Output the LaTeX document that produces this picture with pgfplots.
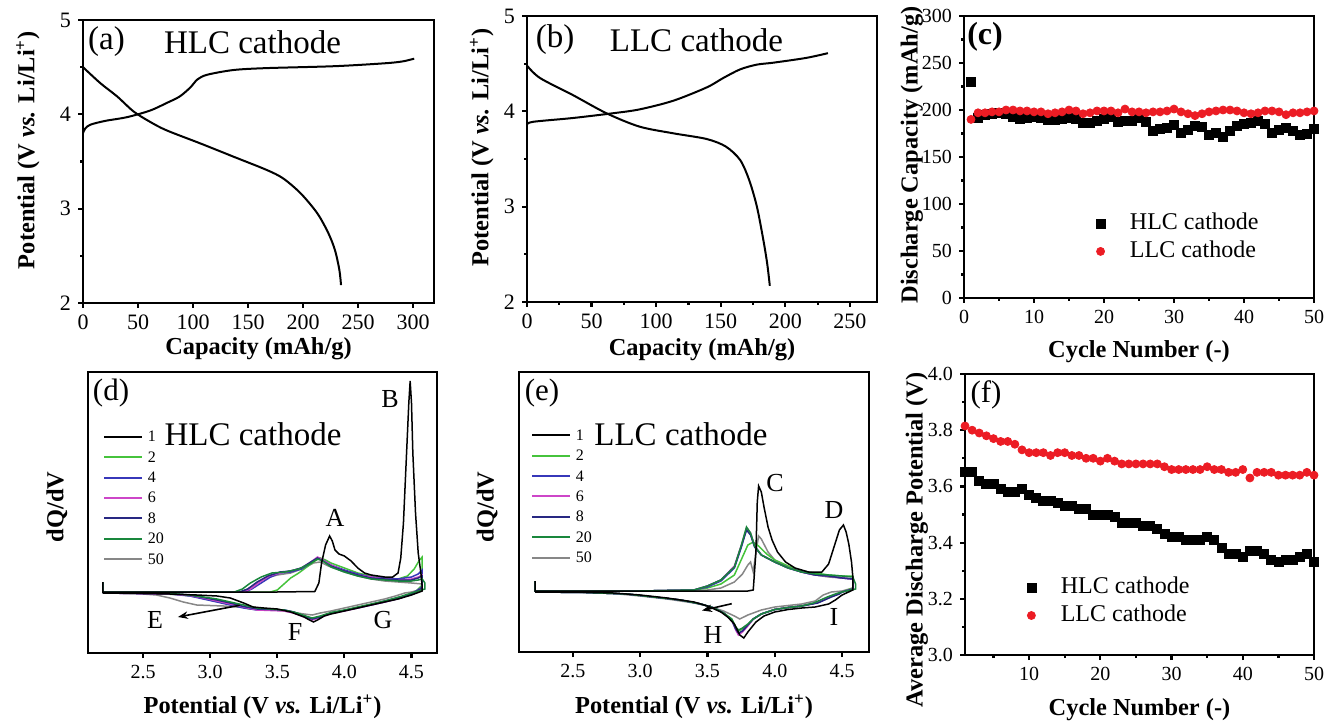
\documentclass[border=0pt]{standalone}
\usepackage{fontspec}
\setmainfont{Liberation Serif}
\usepackage{pgfplots}
\pgfplotsset{compat=1.18}
\usetikzlibrary{arrows.meta}
\definecolor{cyA}{RGB}{0,0,0}
\definecolor{cyB}{RGB}{70,195,60}
\definecolor{cyD}{RGB}{55,55,185}
\definecolor{cyF}{RGB}{205,70,200}
\definecolor{cyH}{RGB}{40,40,130}
\definecolor{cyT}{RGB}{25,135,60}
\definecolor{cyZ}{RGB}{135,135,135}
\definecolor{myred}{RGB}{236,28,36}
\pgfplotsset{
  base/.style={scale only axis, axis line style={line width=1.4pt},
    tick align=outside, tick pos=left, major tick length=2.5pt, minor tick length=1.5pt,
    every tick/.style={black, line width=1.1pt},
    ticklabel style={font=\fontsize{10}{11}\selectfont},
    /pgf/number format/assume math mode=true,
    label style={font=\bfseries\fontsize{12.2}{14}\selectfont},
    clip=false},
  dq/.style={base, ytick=\empty, xtick={2.5,3,3.5,4,4.5},
    xticklabel style={/pgf/number format/fixed, /pgf/number format/fixed zerofill, /pgf/number format/precision=1},
    ymin=0,
    legend style={draw=none, fill=none, font=\fontsize{8}{9}\selectfont, row sep=3.2pt,
      nodes={inner sep=0pt, text height=6pt, text depth=1pt}, cells={anchor=west}},
    legend image code/.code={\draw[#1, line width=1pt] (0pt,0pt) -- (19pt,0pt); \path (21.5pt,0pt);}},
  mk/.style={legend style={draw=none, fill=none, font=\fontsize{12}{14}\selectfont, row sep=3pt,
      nodes={inner sep=0pt, text height=8.5pt, text depth=2.5pt}, cells={anchor=west}},
    legend image code/.code={\draw[#1] plot coordinates {(0pt,0pt)}; \path (14.5pt,0pt);}},
  cv/.style={line width=0.75pt}
}
\begin{document}
\begin{tikzpicture}
\useasboundingbox (0,0) rectangle (662.5pt,361pt);
% ---------------- (a)
\begin{axis}[base, at={(41.5pt,209.5pt)}, anchor=south west, width=175.5pt, height=141.5pt,
  xmin=0, xmax=319, ymin=2, ymax=5, xtick={0,50,...,300}, ytick={2,3,4,5},
  minor ytick={2.5,3.5,4.5}, ticklabel style={font=\fontsize{11}{12}\selectfont},
  xlabel={Capacity (mAh/g)}, ylabel={Potential (V \textit{vs.} Li/Li\textsuperscript{+})},
  xlabel style={at={(axis description cs:0.5,-0.16)}, anchor=center},
  ylabel style={at={(axis description cs:-0.157,0.54)}, anchor=center}]
\addplot[black, line width=1pt, smooth] coordinates {(0,3.80) (2,3.85) (6.7,3.89) (20,3.93) (40,3.97) (61,4.04) (76,4.12) (88,4.19) (98,4.29) (104,4.37) (113,4.42) (137,4.47) (167,4.49) (228,4.51) (273,4.54) (290,4.56) (301,4.59)};
\addplot[black, line width=1pt, smooth] coordinates {(0,4.5) (15.8,4.33) (31,4.19) (46,4.03) (61,3.92) (76,3.83) (107,3.69) (137,3.55) (167,3.41) (182,3.32) (198,3.16) (213,2.95) (223,2.74) (229,2.56) (233,2.35) (234.5,2.19)};
\end{axis}
% ---------------- (b)
\begin{axis}[base, at={(263.5pt,210pt)}, anchor=south west, width=175pt, height=143pt,
  xmin=0, xmax=271, ymin=2, ymax=5, xtick={0,50,...,250}, minor xtick={25,75,...,225}, ytick={2,3,4,5},
  minor ytick={2.5,3.5,4.5}, ticklabel style={font=\fontsize{11}{12}\selectfont},
  xlabel={Capacity (mAh/g)}, ylabel={Potential (V \textit{vs.} Li/Li\textsuperscript{+})},
  xlabel style={at={(axis description cs:0.5,-0.168)}, anchor=center},
  ylabel style={at={(axis description cs:-0.129,0.54)}, anchor=center}]
\addplot[black, line width=1pt, smooth] coordinates {(0,3.86) (4.6,3.89) (35.6,3.93) (66.6,3.98) (87,4.02) (113,4.11) (139,4.25) (152,4.35) (165,4.44) (178,4.49) (190.6,4.51) (216,4.56) (233,4.61)};
\addplot[black, line width=1pt, smooth] coordinates {(0,4.48) (10,4.35) (35.6,4.17) (61.5,3.98) (87,3.84) (113,3.77) (139,3.71) (154,3.63) (165,3.49) (172,3.28) (178,3.0) (183,2.65) (186,2.40) (188,2.17)};
\end{axis}
% ---------------- (c)
\begin{axis}[base, mk, at={(482pt,212pt)}, anchor=south west, width=175pt, height=141pt,
  xmin=0, xmax=50, ymin=0, ymax=300, xtick={0,10,...,50}, minor xtick={5,15,...,45},
  ytick={0,50,...,300}, minor ytick={25,75,...,275},
  xlabel={Cycle Number (-)}, ylabel={Discharge Capacity (mAh/g)},
  xlabel style={at={(axis description cs:0.5,-0.191)}, anchor=center},
  ylabel style={at={(axis description cs:-0.149,0.507)}, anchor=center},
  legend style={at={(axis description cs:0.359,0.319)}, anchor=north west}]
\addplot[only marks, mark=square*, mark size=2.25pt, black] coordinates {(1,230) (2,192) (3,195) (4,196) (5,197) (6,196) (7,193) (8,190) (9,192) (10,193) (11,192) (12,189) (13,189) (14,191) (15,192) (16,191) (17,186) (18,186) (19,188) (20,190) (21,193) (22,187) (23,188) (24,188) (25,192) (26,187) (27,178) (28,180) (29,181) (30,184) (31,176) (32,179) (33,183) (34,182) (35,174) (36,176) (37,171) (38,178) (39,183) (40,185) (41,186) (42,188) (43,185) (44,176) (45,179) (46,181) (47,178) (48,173) (49,175) (50,180)};
\addlegendentry{HLC cathode}
\addplot[only marks, mark=*, mark size=2pt, myred] coordinates {(1,190) (2,197) (3,197) (4,198) (5,198) (6,200) (7,200) (8,199) (9,199) (10,198) (11,198) (12,196) (13,197) (14,198) (15,200) (16,199) (17,196) (18,197) (19,199) (20,199) (21,199) (22,197) (23,201) (24,198) (25,198) (26,197) (27,198) (28,198) (29,199) (30,201) (31,198) (32,196) (33,194) (34,196) (35,198) (36,199) (37,200) (38,200) (39,199) (40,197) (41,196) (42,197) (43,199) (44,199) (45,198) (46,195) (47,197) (48,197) (49,198) (50,199)};
\addlegendentry{LLC cathode}
\end{axis}
% ---------------- (d)
\begin{axis}[base, dq, at={(44pt,34.5pt)}, anchor=south west, width=174.5pt, height=140.5pt,
  xmin=2.09, xmax=4.69, ymax=281,
  xlabel={Potential (V \textit{vs.} Li/Li\textsuperscript{+})}, ylabel={dQ/dV},
  xlabel style={at={(axis description cs:0.5,-0.192)}, anchor=center},
  ylabel style={at={(axis description cs:-0.089,0.52)}, anchor=center},
  legend style={at={(axis description cs:0.026,0.81)}, anchor=north west}]
\addlegendimage{cyA}\addlegendentry{1}
\addlegendimage{cyB}\addlegendentry{2}
\addlegendimage{cyD}\addlegendentry{4}
\addlegendimage{cyF}\addlegendentry{6}
\addlegendimage{cyH}\addlegendentry{8}
\addlegendimage{cyT}\addlegendentry{20}
\addlegendimage{cyZ}\addlegendentry{50}
% cycle 50
\addplot[cyZ, cv, forget plot] coordinates {(2.2,71) (2.2,61) (3.0,61) (3.22,61) (3.28,64) (3.35,70) (3.42,75) (3.5,78) (3.6,80) (3.7,85) (3.77,90) (3.82,91) (3.88,87) (4.0,81) (4.1,77) (4.2,74) (4.3,72) (4.4,71) (4.5,70) (4.58,69) (4.58,64)
 (4.5,61) (4.45,60) (4.38,57) (4.3,54) (4.2,51) (4.1,48) (4.0,45) (3.9,42) (3.82,40) (3.76,38) (3.7,39) (3.6,41) (3.5,43) (3.4,44) (3.3,45) (3.2,46) (3.1,47) (3.0,47.5) (2.9,48) (2.8,51) (2.7,55) (2.6,58) (2.45,59.5) (2.2,60)};
% cycle 2
\addplot[cyB, cv, forget plot] coordinates {(2.2,71) (2.2,61) (3.0,61) (3.45,61) (3.5,63) (3.55,69) (3.6,75) (3.66,80) (3.72,86) (3.78,92) (3.82,95) (3.86,93) (3.9,90) (4.0,85) (4.1,80) (4.2,77) (4.3,75) (4.4,74) (4.47,77) (4.52,84) (4.56,93) (4.58,96) (4.58,68)
 (4.52,60) (4.45,57) (4.35,53) (4.25,50) (4.15,47) (4.05,44) (3.95,41) (3.85,38) (3.8,35) (3.76,34) (3.72,36) (3.65,40) (3.58,42) (3.5,43) (3.4,43) (3.3,44) (3.2,47) (3.1,50) (3.0,53) (2.9,56) (2.8,58) (2.6,59.5) (2.2,60)};
% cycle 4
\addplot[cyD, cv, forget plot] coordinates {(2.2,71) (2.2,61) (3.0,61) (3.26,61) (3.31,64) (3.38,70) (3.45,76) (3.52,80) (3.6,81) (3.68,84) (3.75,90) (3.8,95) (3.84,93) (3.9,88) (4.0,83) (4.1,79) (4.2,76) (4.3,75) (4.4,74) (4.5,76) (4.55,79) (4.58,83) (4.58,66)
 (4.5,59) (4.42,55) (4.3,51) (4.2,48) (4.1,45) (4.0,42.5) (3.9,40) (3.82,36) (3.76,34) (3.7,37) (3.62,41) (3.55,43) (3.45,43) (3.35,43) (3.25,45) (3.15,48) (3.05,51) (2.95,54) (2.85,57) (2.7,59) (2.2,60)};
% cycle 6
\addplot[cyF, cv, forget plot] coordinates {(2.2,71) (2.2,61) (3.0,61) (3.24,61) (3.3,64) (3.37,71) (3.44,77) (3.52,80) (3.6,82) (3.68,85) (3.75,91) (3.8,96) (3.84,93) (3.9,88) (4.0,82) (4.1,78) (4.2,76) (4.3,74) (4.4,73) (4.5,74) (4.55,76) (4.58,78) (4.58,65)
 (4.5,59) (4.42,55) (4.3,51) (4.2,48) (4.1,45) (4.0,42) (3.9,39.5) (3.82,35.5) (3.76,33) (3.7,36) (3.62,40) (3.55,42) (3.45,42.5) (3.35,43) (3.25,46) (3.15,49) (3.05,52) (2.95,55) (2.85,57.5) (2.7,59) (2.2,60)};
% cycle 8
\addplot[cyH, cv, forget plot] coordinates {(2.2,71) (2.2,61) (3.0,61) (3.22,61) (3.28,64) (3.35,71) (3.43,77) (3.52,81) (3.6,82) (3.68,85) (3.75,91) (3.8,95) (3.84,92) (3.9,87) (4.0,82) (4.1,78) (4.2,75) (4.3,74) (4.4,73) (4.5,73) (4.55,75) (4.58,77) (4.58,65)
 (4.5,59) (4.42,56) (4.3,52) (4.2,48.5) (4.1,45.5) (4.0,42.5) (3.9,40) (3.82,36) (3.76,34) (3.7,37) (3.62,41) (3.55,43) (3.45,43.5) (3.35,44) (3.25,46.5) (3.15,50) (3.05,53) (2.95,55.5) (2.85,58) (2.7,59.5) (2.2,60)};
% cycle 20
\addplot[cyT, cv, forget plot] coordinates {(2.2,71) (2.2,61) (3.0,61) (3.18,61) (3.24,64) (3.3,70) (3.38,76) (3.46,80) (3.56,81) (3.66,84) (3.74,89) (3.8,94) (3.84,92) (3.9,86) (4.0,81) (4.1,77) (4.2,74) (4.3,73) (4.4,72) (4.5,72) (4.55,73) (4.58,74) (4.6,70) (4.6,64)
 (4.5,60) (4.42,56.5) (4.3,52) (4.2,49) (4.1,46) (4.0,43) (3.9,40.5) (3.82,37) (3.76,35) (3.7,37.5) (3.62,41) (3.55,43) (3.45,44) (3.35,45) (3.25,48) (3.15,51) (3.05,54) (2.95,56) (2.85,58) (2.7,59.5) (2.5,60) (2.2,60)};
% cycle 1
\addplot[cyA, cv, forget plot] coordinates {(2.2,71) (2.2,61) (3.0,61) (3.5,61) (3.78,61.5) (3.81,70) (3.83,90) (3.86,108) (3.89,117) (3.91,112) (3.93,103) (3.96,99) (4.0,97) (4.05,92) (4.1,85) (4.15,80) (4.2,78) (4.3,76) (4.36,76) (4.4,80) (4.42,95) (4.44,130) (4.46,190) (4.48,250) (4.49,272) (4.5,250) (4.51,200) (4.53,140) (4.55,100) (4.57,80) (4.58,66)
 (4.58,62) (4.5,58) (4.4,54) (4.3,51) (4.2,48) (4.1,45) (4.0,42) (3.9,39) (3.85,37) (3.8,33) (3.77,31) (3.74,33) (3.7,36) (3.6,41) (3.5,44) (3.4,45) (3.32,46) (3.25,50) (3.15,55) (3.05,57) (2.9,58) (2.7,59) (2.5,59.5) (2.2,60)};
\draw[-{Stealth[length=5pt]}, line width=0.8pt] (axis cs:3.22,47.7) -- (axis cs:2.76,36);
\end{axis}
% ---------------- (e)
\begin{axis}[base, dq, at={(259.5pt,35pt)}, anchor=south west, width=175pt, height=140pt,
  xmin=2.1, xmax=4.7, ymax=280,
  xlabel={Potential (V \textit{vs.} Li/Li\textsuperscript{+})}, ylabel={dQ/dV},
  xlabel style={at={(axis description cs:0.5,-0.196)}, anchor=center},
  ylabel style={at={(axis description cs:-0.091,0.518)}, anchor=center},
  legend style={at={(axis description cs:0.017,0.815)}, anchor=north west}]
\addlegendimage{cyA}\addlegendentry{1}
\addlegendimage{cyB}\addlegendentry{2}
\addlegendimage{cyD}\addlegendentry{4}
\addlegendimage{cyF}\addlegendentry{6}
\addlegendimage{cyH}\addlegendentry{8}
\addlegendimage{cyT}\addlegendentry{20}
\addlegendimage{cyZ}\addlegendentry{50}
% cycle 50
\addplot[cyZ, cv, forget plot] coordinates {(2.22,71) (2.22,61) (3.0,61) (3.5,62) (3.6,64) (3.7,70) (3.76,78) (3.8,87) (3.82,90) (3.84,80) (3.86,100) (3.88,116) (3.9,113) (3.95,100) (4.0,92) (4.1,85) (4.2,80) (4.3,77) (4.4,75) (4.5,74) (4.58,73) (4.58,64)
 (4.5,61) (4.42,60) (4.36,57) (4.3,51) (4.2,48) (4.0,45) (3.9,42) (3.8,37) (3.74,33) (3.7,36) (3.62,41) (3.5,46) (3.4,49) (3.2,53) (3.0,56) (2.8,58.5) (2.5,60) (2.22,60)};
% cycle 2
\addplot[cyB, cv, forget plot] coordinates {(2.22,71) (2.22,61) (3.0,61) (3.4,62) (3.5,64) (3.6,68) (3.7,77) (3.76,95) (3.8,107) (3.84,110) (3.88,106) (3.94,98) (4.0,92) (4.1,86) (4.2,81) (4.3,79) (4.4,77) (4.5,76) (4.58,76) (4.58,64)
 (4.5,60) (4.44,57) (4.38,53) (4.3,49) (4.2,46) (4.1,44.5) (4.0,42.5) (3.9,38) (3.84,33) (3.8,27) (3.76,23) (3.73,21) (3.71,25) (3.68,33) (3.62,39) (3.55,44) (3.45,48) (3.3,52) (3.1,55) (2.9,58) (2.6,59.5) (2.22,60)};
% cycle 4
\addplot[cyD, cv, forget plot] coordinates {(2.22,71) (2.22,61) (3.0,61) (3.4,62) (3.5,65) (3.6,71) (3.7,84) (3.75,104) (3.79,123) (3.82,118) (3.85,106) (3.9,97) (4.0,90) (4.1,84) (4.2,80) (4.3,77) (4.4,76) (4.5,74) (4.58,73) (4.58,63)
 (4.5,60) (4.46,58) (4.4,55) (4.35,52) (4.3,49) (4.2,46) (4.1,44.5) (4.0,42.5) (3.9,38) (3.84,33) (3.8,27) (3.76,21) (3.73,18) (3.71,23) (3.68,32) (3.62,39) (3.55,44) (3.45,48) (3.3,52) (3.1,55) (2.9,58) (2.6,59.5) (2.22,60)};
% cycle 6
\addplot[cyF, cv, forget plot] coordinates {(2.22,71) (2.22,61) (3.0,61) (3.4,62) (3.5,66) (3.6,72) (3.7,86) (3.75,106) (3.79,124) (3.82,119) (3.85,106) (3.9,97) (4.0,90) (4.1,84) (4.2,80) (4.3,77) (4.4,76) (4.5,74) (4.58,73) (4.58,63)
 (4.5,60) (4.47,58) (4.41,55) (4.36,52) (4.31,49) (4.2,46) (4.1,44.5) (4.0,42.5) (3.9,38) (3.84,33) (3.8,26) (3.76,20) (3.73,17) (3.71,22) (3.68,32) (3.62,39) (3.55,44) (3.45,48) (3.3,52) (3.1,55) (2.9,58) (2.6,59.5) (2.22,60)};
% cycle 8
\addplot[cyH, cv, forget plot] coordinates {(2.22,71) (2.22,61) (3.0,61) (3.4,62) (3.5,66) (3.6,72) (3.7,85) (3.75,105) (3.79,122) (3.82,117) (3.85,105) (3.9,97) (4.0,90) (4.1,84) (4.2,80) (4.3,77) (4.4,76) (4.5,74) (4.58,73) (4.58,63)
 (4.5,60) (4.48,58) (4.42,55) (4.37,52) (4.32,49) (4.2,46) (4.1,44.5) (4.0,42.5) (3.9,38) (3.84,33) (3.8,27) (3.76,21) (3.73,19) (3.71,23) (3.68,32) (3.62,39) (3.55,44) (3.45,48) (3.3,52) (3.1,55) (2.9,58) (2.6,59.5) (2.22,60)};
% cycle 20
\addplot[cyT, cv, forget plot] coordinates {(2.22,71) (2.22,61) (3.0,61) (3.4,62) (3.5,66) (3.6,72) (3.7,85) (3.75,106) (3.79,125) (3.82,119) (3.85,106) (3.9,97) (4.0,90) (4.1,84) (4.2,80) (4.3,78) (4.4,77) (4.5,76) (4.58,75) (4.6,68) (4.6,63)
 (4.5,60) (4.45,58) (4.39,55) (4.34,52) (4.29,49) (4.2,46) (4.1,44.5) (4.0,42.5) (3.9,38) (3.84,33) (3.8,28) (3.76,24) (3.73,22) (3.71,25) (3.68,33) (3.62,39) (3.55,44) (3.45,48) (3.3,52) (3.1,55) (2.9,58) (2.6,59.5) (2.22,60)};
% cycle 1
\addplot[cyA, cv, forget plot] coordinates {(2.22,71) (2.22,61) (3.0,61) (3.5,61) (3.8,61) (3.84,62) (3.86,100) (3.87,150) (3.88,166) (3.9,160) (3.92,145) (3.95,125) (3.98,112) (4.02,100) (4.08,90) (4.15,84) (4.25,80) (4.35,80) (4.4,88) (4.44,105) (4.48,122) (4.51,127) (4.53,120) (4.55,108) (4.57,90) (4.58,75) (4.58,62)
 (4.5,57) (4.45,52) (4.4,48) (4.3,45) (4.2,44) (4.1,42.5) (4.0,40) (3.92,36) (3.86,30) (3.8,20) (3.77,14) (3.74,17) (3.7,28) (3.65,35) (3.6,40) (3.5,46) (3.4,50) (3.2,54) (3.0,57) (2.8,59) (2.5,60) (2.22,60)};
\draw[-{Stealth[length=5pt]}, line width=0.8pt] (axis cs:3.68,48.3) -- (axis cs:3.46,41.5);
\end{axis}
% ---------------- (f)
\begin{axis}[base, mk, at={(482.5pt,33.5pt)}, anchor=south west, width=174.5pt, height=140.5pt,
  xmin=1, xmax=50, ymin=3, ymax=4, xtick={10,20,...,50}, minor xtick={5,15,...,45},
  ytick={3.0,3.2,...,4.0}, minor ytick={3.1,3.3,3.5,3.7,3.9},
  yticklabel style={/pgf/number format/fixed, /pgf/number format/fixed zerofill, /pgf/number format/precision=1},
  xlabel={Cycle Number (-)}, ylabel={Average Discharge Potential (V)},
  xlabel style={at={(axis description cs:0.5,-0.196)}, anchor=center},
  ylabel style={at={(axis description cs:-0.138,0.41)}, anchor=center},
  legend style={at={(axis description cs:0.159,0.295)}, anchor=north west}]
\addplot[only marks, mark=square*, mark size=2.25pt, black] coordinates {(1,3.65) (2,3.65) (3,3.62) (4,3.61) (5,3.61) (6,3.59) (7,3.58) (8,3.58) (9,3.59) (10,3.57) (11,3.56) (12,3.55) (13,3.55) (14,3.54) (15,3.53) (16,3.53) (17,3.52) (18,3.52) (19,3.50) (20,3.50) (21,3.50) (22,3.49) (23,3.47) (24,3.47) (25,3.47) (26,3.46) (27,3.46) (28,3.45) (29,3.43) (30,3.42) (31,3.42) (32,3.41) (33,3.41) (34,3.41) (35,3.42) (36,3.41) (37,3.38) (38,3.36) (39,3.36) (40,3.35) (41,3.37) (42,3.37) (43,3.36) (44,3.34) (45,3.33) (46,3.34) (47,3.34) (48,3.35) (49,3.36) (50,3.33)};
\addlegendentry{HLC cathode}
\addplot[only marks, mark=*, mark size=2pt, myred] coordinates {(1,3.815) (2,3.80) (3,3.79) (4,3.78) (5,3.77) (6,3.76) (7,3.76) (8,3.75) (9,3.73) (10,3.72) (11,3.72) (12,3.72) (13,3.71) (14,3.72) (15,3.72) (16,3.71) (17,3.71) (18,3.70) (19,3.70) (20,3.69) (21,3.70) (22,3.69) (23,3.68) (24,3.68) (25,3.68) (26,3.68) (27,3.68) (28,3.68) (29,3.67) (30,3.66) (31,3.66) (32,3.66) (33,3.66) (34,3.66) (35,3.67) (36,3.66) (37,3.66) (38,3.65) (39,3.65) (40,3.66) (41,3.63) (42,3.65) (43,3.65) (44,3.65) (45,3.64) (46,3.64) (47,3.64) (48,3.64) (49,3.65) (50,3.64)};
\addlegendentry{LLC cathode}
\end{axis}
% ---------------- panel texts
\node[font=\fontsize{16.5}{18}\selectfont] at (53.25pt,340pt) {(a)};
\node[font=\fontsize{16.5}{18}\selectfont] at (126.25pt,340pt) {HLC cathode};
\node[font=\fontsize{16.5}{18}\selectfont] at (277.5pt,341pt) {(b)};
\node[font=\fontsize{16.5}{18}\selectfont] at (348.25pt,341pt) {LLC cathode};
\node[font=\bfseries\fontsize{16}{18}\selectfont] at (492.5pt,342.5pt) {(c)};
\node[font=\fontsize{15.5}{18}\selectfont] at (55.5pt,164.5pt) {(d)};
\node[font=\fontsize{16.5}{18}\selectfont] at (126.5pt,144pt) {HLC cathode};
\node[font=\fontsize{15.5}{18}\selectfont] at (271pt,164.5pt) {(e)};
\node[font=\fontsize{16.5}{18}\selectfont] at (340.5pt,144pt) {LLC cathode};
\node[font=\fontsize{15.5}{18}\selectfont] at (493pt,163.5pt) {(f)};
\node[font=\fontsize{13}{15}\selectfont] at (167.5pt,102pt) {A};
\node[font=\fontsize{13}{15}\selectfont] at (195pt,161.5pt) {B};
\node[font=\fontsize{13}{15}\selectfont] at (77.5pt,51pt) {E};
\node[font=\fontsize{13}{15}\selectfont] at (147.5pt,45pt) {F};
\node[font=\fontsize{13}{15}\selectfont] at (191.5pt,51pt) {G};
\node[font=\fontsize{13}{15}\selectfont] at (387.5pt,119.5pt) {C};
\node[font=\fontsize{13}{15}\selectfont] at (417pt,106pt) {D};
\node[font=\fontsize{13}{15}\selectfont] at (356.5pt,43.5pt) {H};
\node[font=\fontsize{13}{15}\selectfont] at (417pt,52.5pt) {I};
\end{tikzpicture}
\end{document}
